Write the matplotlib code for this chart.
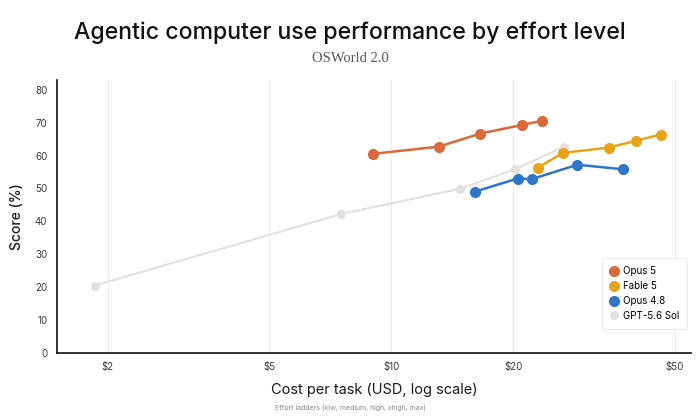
import matplotlib
matplotlib.use("Agg")
import matplotlib.pyplot as plt
from matplotlib.ticker import FixedLocator, FixedFormatter, NullLocator

# ---- data ----
opus5_cost = [9.0, 13.1, 16.6, 21.0, 23.6]
opus5_score = [60.5, 62.7, 66.7, 69.3, 70.6]

fable5_cost = [23.0, 26.5, 34.4, 40.1, 46.3]
fable5_score = [56.3, 60.8, 62.4, 64.5, 66.4]

opus48_cost = [16.1, 20.5, 22.2, 28.8, 37.3]
opus48_score = [49.0, 53.0, 52.8, 57.2, 55.8]

gpt_cost = [1.86, 7.54, 14.8, 20.2, 26.7]
gpt_score = [20.4, 42.2, 49.9, 55.8, 62.7]

x_ticks = [2, 5, 10, 20, 50]
x_ticklabels = ["$2", "$5", "$10", "$20", "$50"]
y_ticks = [0, 10, 20, 30, 40, 50, 60, 70, 80]

c_opus5 = "#d9683a"
c_fable5 = "#e8a417"
c_opus48 = "#2e76c8"
c_gpt = "#e2e1de"

plt.rcParams['font.family'] = ['Inter', 'DejaVu Sans']

fig = plt.figure(figsize=(7, 4.2), dpi=100)
ax = fig.add_axes([0.0814, 0.1607, 0.9064, 0.6488])

ax.plot(gpt_cost, gpt_score, color=c_gpt, lw=1.5, marker='o', ms=6.5,
        markeredgewidth=0, label="GPT-5.6 Sol", zorder=2)
ax.plot(opus48_cost, opus48_score, color=c_opus48, lw=1.8, marker='o', ms=8,
        markeredgewidth=0, label="Opus 4.8", zorder=3)
ax.plot(fable5_cost, fable5_score, color=c_fable5, lw=1.8, marker='o', ms=8,
        markeredgewidth=0, label="Fable 5", zorder=4)
ax.plot(opus5_cost, opus5_score, color=c_opus5, lw=1.8, marker='o', ms=8,
        markeredgewidth=0, label="Opus 5", zorder=5)

ax.set_xscale('log')
ax.set_xlim(1.5, 55)
ax.set_ylim(0, 83)
ax.xaxis.set_major_locator(FixedLocator(x_ticks))
ax.xaxis.set_major_formatter(FixedFormatter(x_ticklabels))
ax.xaxis.set_minor_locator(NullLocator())
ax.set_yticks(y_ticks)
ax.tick_params(axis='both', length=0, labelsize=7, labelcolor="#3a3a3a", pad=7)

ax.grid(axis='x', color="#ececec", lw=0.8)
ax.set_axisbelow(True)
for s in ['top', 'right']:
    ax.spines[s].set_visible(False)
for s in ['left', 'bottom']:
    ax.spines[s].set_color("#111111")
    ax.spines[s].set_linewidth(1.2)

ax.set_ylabel("Score (%)", fontsize=10, fontweight='medium', color="#1a1a1a", labelpad=8)
ax.set_xlabel("Cost per task (USD, log scale)", fontsize=10.5, color="#1a1a1a", labelpad=8)

fig.text(0.5, 0.03, "Effort ladders (low, medium, high, xhigh, max)", ha='center',
         va='center', fontsize=5, color="#888888")

fig.text(0.5, 0.922, "Agentic computer use performance by effort level", ha='center',
         va='center', fontsize=16.6, fontweight='medium', color="#111111")
fig.text(0.5, 0.86, "OSWorld 2.0", ha='center', va='center', fontsize=10.5,
         color="#555555", family=['Liberation Serif', 'DejaVu Serif'])

handles, labels = ax.get_legend_handles_labels()
order = [3, 2, 1, 0]
leg = ax.legend([handles[i] for i in order], [labels[i] for i in order],
                loc='lower right', bbox_to_anchor=(1.0, 0.07), fontsize=7,
                frameon=True, fancybox=True, handlelength=0.8, handletextpad=0.5,
                labelspacing=0.5, borderpad=0.8)
for h in leg.legend_handles:
    h.set_linestyle('none')
leg.get_frame().set_edgecolor("#e6e6e6")
leg.get_frame().set_linewidth(0.8)

fig.savefig("out.png", dpi=100, facecolor='white')
